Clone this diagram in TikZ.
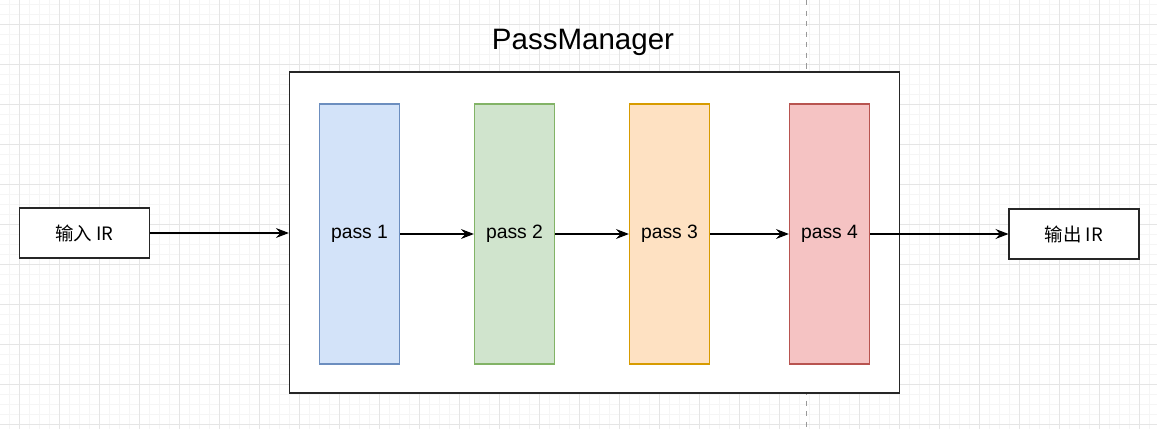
\documentclass[tikz,border=0pt]{standalone}
\usepackage{fontspec}
\setmainfont{Liberation Sans}
\newfontfamily\cjk{Noto Sans CJK SC}
\usepackage{xcolor}
\usetikzlibrary{positioning,calc,arrows.meta}

\definecolor{blueFill}{HTML}{D3E3F9}
\definecolor{blueLine}{HTML}{6C8EBF}
\definecolor{greenFill}{HTML}{D0E4CD}
\definecolor{greenLine}{HTML}{82B366}
\definecolor{orangeFill}{HTML}{FEE1C2}
\definecolor{orangeLine}{HTML}{D79B00}
\definecolor{redFill}{HTML}{F5C3C3}
\definecolor{redLine}{HTML}{B85450}

\tikzset{
    minorgrid/.style={draw=black!4, line width=0.5pt},
    majorgrid/.style={draw=black!10, line width=0.6pt},
    iobox/.style={draw=black!85, line width=0.6pt, fill=white, minimum width=2.6cm, minimum height=1cm, font=\cjk\fontsize{10.5}{12}\selectfont},
    passbox/.style={line width=0.7pt, minimum width=1.6cm, minimum height=5.2cm, font=\fontsize{11}{13}\selectfont},
    flow/.style={-{Stealth[length=2.6mm,width=2mm,inset=0.9mm]}, line width=0.6pt},
}

\begin{document}
\begin{tikzpicture}[x=0.02cm,y=-0.02cm]
        \useasboundingbox (0,0) rectangle (1157,429);
        % Background grid
        \foreach \x in {9.3,19.3,...,1157} \draw[minorgrid] (\x,0) -- (\x,429);
        \foreach \y in {4.3,14.3,...,429} \draw[minorgrid] (0,\y) -- (1157,\y);
        \foreach \x in {19.3,59.3,...,1157} \draw[majorgrid] (\x,0) -- (\x,429);
        \foreach \y in {24.3,64.3,...,429} \draw[majorgrid] (0,\y) -- (1157,\y);
        \draw[black!40, dashed, line width=0.5pt] (806,0) -- (806,429);

        % PassManager
        \node[draw=black!85, line width=0.8pt, fill=white, minimum width=12.2cm, minimum height=6.42cm] (pm) at (594.5,232.5) {};
        \node[font=\fontsize{16.8}{20}\selectfont] (title) at (583,42) {PassManager};

        % Passes
        \node[passbox, draw=blueLine, fill=blueFill] (p1) at (359.5,234) {pass 1};
        \node[passbox, draw=greenLine, fill=greenFill] (p2) at (514.5,234) {pass 2};
        \node[passbox, draw=orangeLine, fill=orangeFill] (p3) at (669.5,234) {pass 3};
        \node[passbox, draw=redLine, fill=redFill] (p4) at (829.5,234) {pass 4};

        % Input and output
        \node[iobox] (inp) at (84.5,233) {输入 IR};
        \node[iobox] (outp) at (1074,234) {输出 IR};

        % Connectors
        \draw[flow] (inp.east) -- (inp.east -| pm.west);
        \draw[flow] (p1) -- (p2);
        \draw[flow] (p2) -- (p3);
        \draw[flow] (p3) -- (p4);
        \draw[flow] (p4) -- (outp);
    \end{tikzpicture}
\end{document}
